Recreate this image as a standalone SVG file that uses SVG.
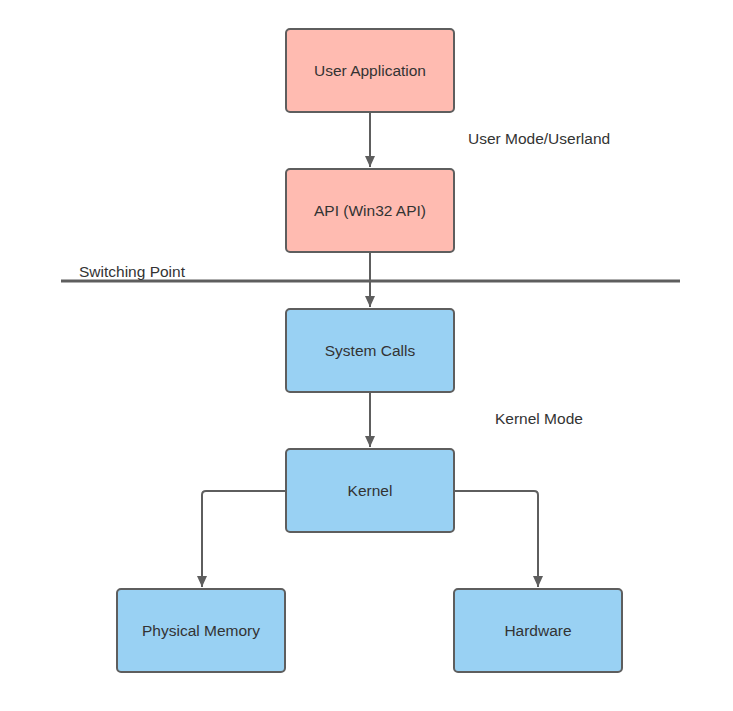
<svg xmlns="http://www.w3.org/2000/svg" width="733" height="711" viewBox="0 0 733 711">
<style>
.box{stroke:#5e5e5e;stroke-width:2}
.pink{fill:#ffbbb1}
.blue{fill:#99d1f3}
text{font-family:"Liberation Sans",Arial,sans-serif;font-size:15.5px;fill:#333}
.c{text-anchor:middle;dominant-baseline:central}
.conn{fill:none;stroke:#5e5e5e;stroke-width:2}
</style>
<defs>
<marker id="ah" markerWidth="12" markerHeight="10" refX="11" refY="5" orient="auto" markerUnits="userSpaceOnUse" viewBox="0 0 12 10">
<path d="M0,0 L11,5 L0,10 Z" fill="#5e5e5e"/>
</marker>
</defs>
<rect width="733" height="711" fill="#fff"/>
<line x1="61" y1="281" x2="680" y2="281" stroke="#5e5e5e" stroke-width="3"/>
<text x="79" y="277">Switching Point</text>
<text x="468" y="144">User Mode/Userland</text>
<text x="495" y="424">Kernel Mode</text>
<g id="connectors">
<path class="conn" d="M370,113 V167" marker-end="url(#ah)"/>
<path class="conn" d="M370,253 V307" marker-end="url(#ah)"/>
<path class="conn" d="M370,393 V447" marker-end="url(#ah)"/>
<path class="conn" d="M286,491 H206 Q202,491 202,495 V587" marker-end="url(#ah)"/>
<path class="conn" d="M455,491 H534 Q538,491 538,495 V587" marker-end="url(#ah)"/>
</g>
<g id="user-application"><rect class="box pink" x="286" y="29" width="168" height="83" rx="4"/><text class="c" x="370" y="70.5">User Application</text></g>
<g id="api"><rect class="box pink" x="286" y="169" width="168" height="83" rx="4"/><text class="c" x="370" y="210.5">API (Win32 API)</text></g>
<g id="system-calls"><rect class="box blue" x="286" y="309" width="168" height="83" rx="4"/><text class="c" x="370" y="350.5">System Calls</text></g>
<g id="kernel"><rect class="box blue" x="286" y="449" width="168" height="83" rx="4"/><text class="c" x="370" y="490.5">Kernel</text></g>
<g id="physical-memory"><rect class="box blue" x="117" y="589" width="168" height="83" rx="4"/><text class="c" x="201" y="630.5">Physical Memory</text></g>
<g id="hardware"><rect class="box blue" x="454" y="589" width="168" height="83" rx="4"/><text class="c" x="538" y="630.5">Hardware</text></g>
</svg>
